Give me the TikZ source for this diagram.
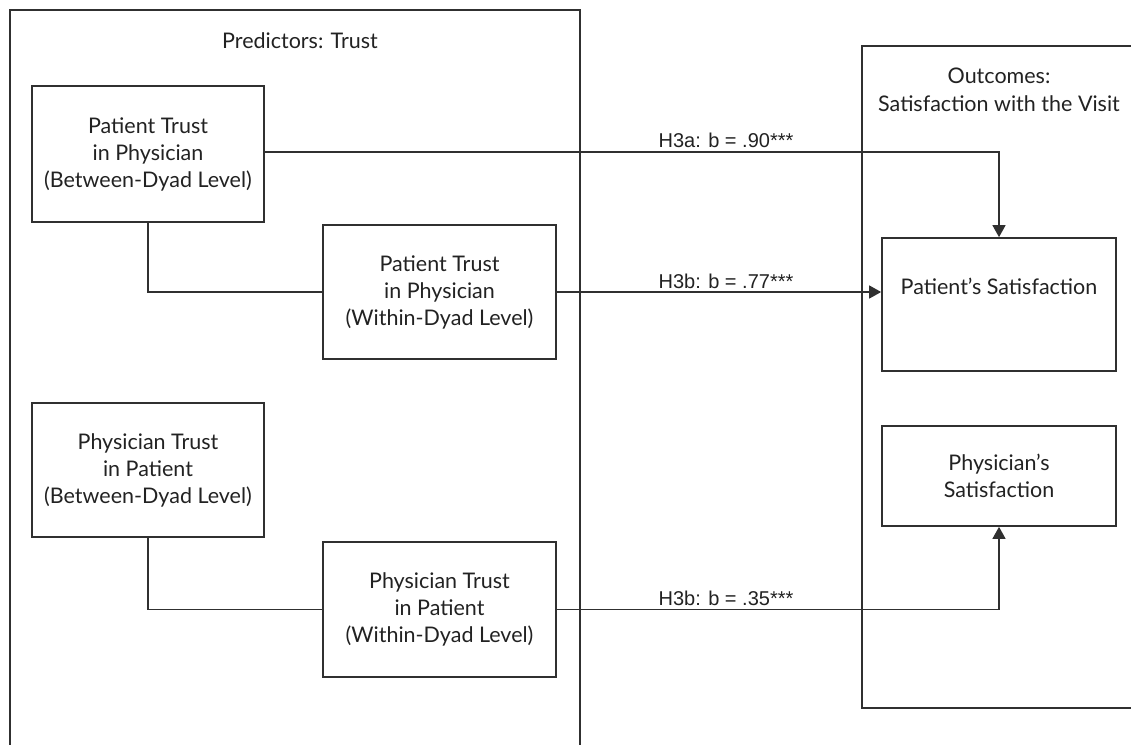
\documentclass[tikz,border=0pt]{standalone}
\usepackage{fontspec}
\setmainfont{Lato}
\newfontfamily\lblfont{Liberation Sans}
\usetikzlibrary{arrows.meta}
\definecolor{ink}{HTML}{222222}
\definecolor{edge}{HTML}{303030}
\tikzset{
  frame/.style={draw=edge, line width=1.4pt},
  box/.style={draw=edge, line width=1.7pt, inner sep=0pt, align=center, text=ink,
    font=\fontsize{21.5}{27}\selectfont},
  txt/.style={inner sep=0pt, align=center, text=ink, font=\fontsize{21.5}{27}\selectfont},
  lbl/.style={inner sep=0pt, anchor=base, text=ink, font=\lblfont\fontsize{20}{24}\selectfont},
  conn/.style={draw=edge, line width=1.3pt},
  arr/.style={conn, -{Triangle[length=12pt,width=13pt]}},
}
\begin{document}
\begin{tikzpicture}[x=1pt,y=-1pt]
\useasboundingbox (0,0) rectangle (1131,744);
\clip (0,0) rectangle (1131,744);
\fill[white] (0,0) rectangle (1131,744);
% containers
\draw[frame] (10,10) rectangle (580,770);
\draw[frame] (862,46) rectangle (1160,708);
\node[txt, anchor=base] (pt) at (300,48) {Predictors: Trust};
\node[txt, anchor=base] (oc1) at (999,83) {Outcomes:};
\node[txt, anchor=base] (oc2) at (999,111) {Satisfaction with the Visit};
% boxes
\node[box, minimum width=232pt, minimum height=136pt] (b1) at (148,154)
  {Patient Trust\\in Physician\\(Between-Dyad Level)};
\node[box, minimum width=233pt, minimum height=134pt] (b2) at (439.5,292)
  {Patient Trust\\in Physician\\(Within-Dyad Level)};
\node[box, minimum width=232pt, minimum height=134pt] (b3) at (148,470)
  {Physician Trust\\in Patient\\(Between-Dyad Level)};
\node[box, minimum width=233pt, minimum height=135pt] (b4) at (439.5,609.5)
  {Physician Trust\\in Patient\\(Within-Dyad Level)};
\node[box, minimum width=234pt, minimum height=133pt] (b5) at (999,304.5) {};
\node[txt, anchor=base] (b5t) at (999,294) {Patient’s Satisfaction};
\node[box, minimum width=234pt, minimum height=100pt] (b6) at (999,476)
  {Physician’s\\Satisfaction};
% connectors
\draw[conn] (b1.south) |- (b2.west);
\draw[conn] (b3.south) |- (b4.west);
\coordinate (k1) at (999,152);
\draw[arr] (b1.east |- k1) -- (k1) -- (b5.north);
\draw[arr] (b2.east) -- (b2.east -| b5.west);
\draw[arr] (b4.east) -| (b6.south);
% labels
\node[lbl] (l1) at (726,147) {H3a: b = .90***};
\node[lbl] (l2) at (726,288) {H3b: b = .77***};
\node[lbl] (l3) at (726,605) {H3b: b = .35***};
\end{tikzpicture}
\end{document}
